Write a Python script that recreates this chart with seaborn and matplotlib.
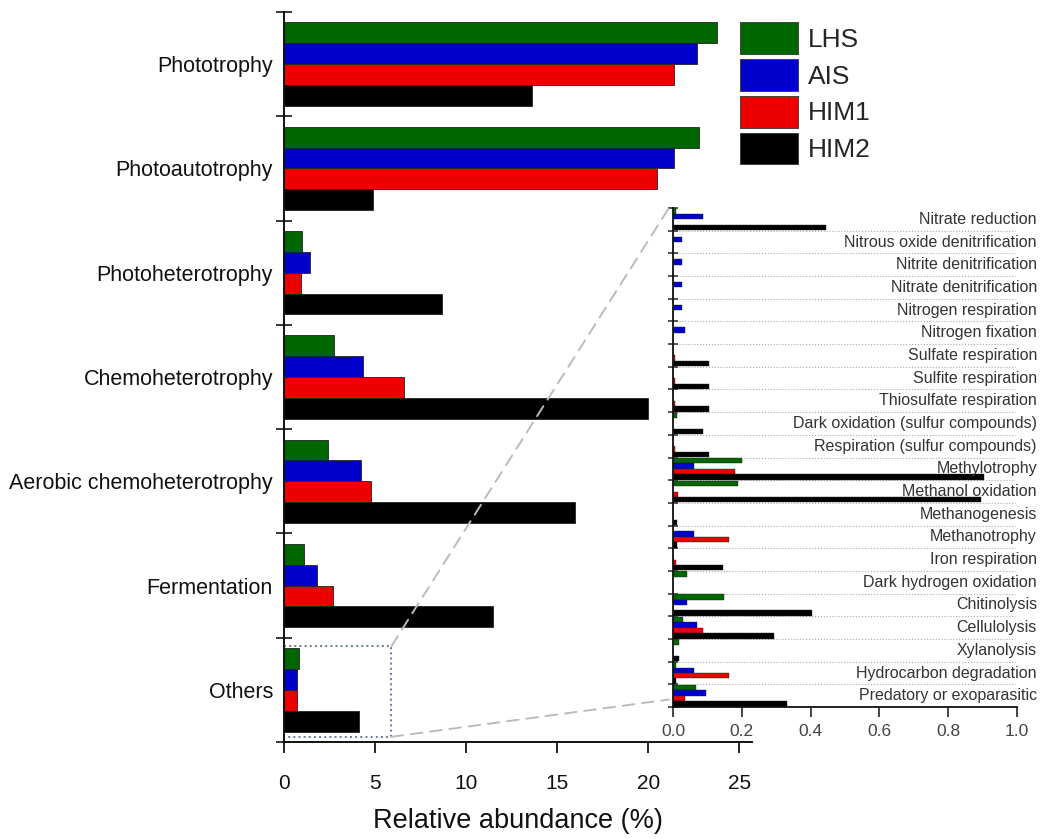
import matplotlib
matplotlib.use("Agg")
import matplotlib.pyplot as plt
from matplotlib.patches import Patch, Rectangle, ConnectionPatch
import seaborn as sns
import pandas as pd
import numpy as np

sns.set_theme(style="ticks")

FONT = ["Liberation Sans", "DejaVu Sans"]
plt.rcParams["font.family"] = FONT

# ---------------------------------------------------------
# data
# ---------------------------------------------------------

sites = ["LHS", "AIS", "HIM1", "HIM2"]
site_colors = ["#006600", "#0000cc", "#ee0000", "#000000"]

main_functions = [
    "Phototrophy",
    "Photoautotrophy",
    "Photoheterotrophy",
    "Chemoheterotrophy",
    "Aerobic chemoheterotrophy",
    "Fermentation",
    "Others",
]
main_lhs = [23.8, 22.8, 1.0, 2.75, 2.4, 1.1, 0.8]
main_ais = [22.7, 21.4, 1.4, 4.35, 4.2, 1.8, 0.7]
main_him1 = [21.4, 20.5, 0.95, 6.6, 4.8, 2.7, 0.7]
main_him2 = [13.6, 4.9, 8.7, 20.0, 16.0, 11.5, 4.1]

other_functions = [
    "Nitrate reduction",
    "Nitrous oxide denitrification",
    "Nitrite denitrification",
    "Nitrate denitrification",
    "Nitrogen respiration",
    "Nitrogen fixation",
    "Sulfate respiration",
    "Sulfite respiration",
    "Thiosulfate respiration",
    "Dark oxidation (sulfur compounds)",
    "Respiration (sulfur compounds)",
    "Methylotrophy",
    "Methanol oxidation",
    "Methanogenesis",
    "Methanotrophy",
    "Iron respiration",
    "Dark hydrogen oxidation",
    "Chitinolysis",
    "Cellulolysis",
    "Xylanolysis",
    "Hydrocarbon degradation",
    "Predatory or exoparasitic",
]
other_lhs = [0.01, 0, 0, 0, 0, 0, 0, 0, 0, 0.013, 0,
             0.20, 0.19, 0, 0, 0, 0.04, 0.148, 0.028, 0.018, 0.01, 0.066]
other_ais = [0.088, 0.025, 0.025, 0.025, 0.027, 0.035, 0, 0, 0, 0, 0,
             0.06, 0, 0, 0.062, 0, 0, 0.04, 0.069, 0, 0.062, 0.095]
other_him1 = [0, 0, 0, 0, 0, 0, 0.005, 0.005, 0.005, 0, 0.005,
              0.18, 0.015, 0, 0.163, 0.009, 0, 0, 0.088, 0, 0.163, 0.035]
other_him2 = [0.444, 0, 0, 0, 0, 0, 0.106, 0.106, 0.106, 0.088, 0.106,
              0.905, 0.895, 0.013, 0.013, 0.144, 0, 0.405, 0.294, 0.018, 0.01, 0.33]

main_ticks = [0, 5, 10, 15, 20, 25]
inset_ticks = [0.0, 0.2, 0.4, 0.6, 0.8, 1.0]

# zoom box drawn round "Others" in the main panel
zoom_xmax = 5.9
zoom_ytop = 5.58
zoom_ybottom = 6.45


def to_long(functions, *series):
    frames = []
    for site, values in zip(sites, series):
        frames.append(pd.DataFrame({
            "Function": functions,
            "Site": site,
            "Abundance": values,
        }))
    return pd.concat(frames, ignore_index=True)


main_df = to_long(main_functions, main_lhs, main_ais, main_him1, main_him2)
other_df = to_long(other_functions, other_lhs, other_ais, other_him1, other_him2)

palette = dict(zip(sites, site_colors))

# ---------------------------------------------------------
# main panel
# ---------------------------------------------------------

fig = plt.figure(figsize=(10.42, 8.39), dpi=100)

ax = fig.add_axes([0.2726, 0.1156, 0.4491, 0.8701])

sns.barplot(
    data=main_df,
    x="Abundance",
    y="Function",
    hue="Site",
    hue_order=sites,
    order=main_functions,
    palette=palette,
    saturation=1,
    orient="h",
    width=0.8,
    edgecolor="#222222",
    linewidth=0.6,
    legend=False,
    ax=ax,
)

ax.set_xlim(0, 25.7)
ax.set_ylim(len(main_functions) - 0.5, -0.5)
ax.set_xticks(main_ticks)
ax.set_yticks(np.arange(-0.5, len(main_functions)), minor=True)

ax.set_ylabel("")
ax.set_xlabel("Relative abundance (%)", fontsize=19.5, labelpad=11,
              color="#111111")

for side in ["top", "right"]:
    ax.spines[side].set_visible(False)
for side in ["left", "bottom"]:
    ax.spines[side].set_linewidth(1.4)
    ax.spines[side].set_color("#111111")

ax.tick_params(axis="y", which="major", length=0, pad=8, labelsize=15.5,
               labelcolor="#111111")
ax.tick_params(axis="y", which="minor", direction="inout", length=11, width=1.3)
ax.tick_params(axis="x", which="major", direction="out", length=8, width=1.4,
               pad=15, labelsize=15, labelcolor="#111111")

ax.add_patch(Rectangle(
    (0, zoom_ytop),
    zoom_xmax,
    zoom_ybottom - zoom_ytop,
    fill=False,
    edgecolor="#6a78a0",
    linestyle=":",
    linewidth=1.4,
    clip_on=False,
))

# ---------------------------------------------------------
# inset with the small functions
# ---------------------------------------------------------

ax_in = fig.add_axes([0.6459, 0.1573, 0.3301, 0.5948])
ax_in.set_facecolor("white")

sns.barplot(
    data=other_df,
    x="Abundance",
    y="Function",
    hue="Site",
    hue_order=sites,
    order=other_functions,
    palette=palette,
    saturation=1,
    orient="h",
    width=0.96,
    edgecolor="#222222",
    linewidth=0.3,
    legend=False,
    ax=ax_in,
)

ax_in.set_xlim(0, 1.0)
ax_in.set_ylim(len(other_functions) - 0.5, -0.5)
ax_in.set_xticks(inset_ticks)
ax_in.set_xticklabels([f"{t:.1f}" for t in inset_ticks], color="#444444")
ax_in.set_yticks(np.arange(-0.5, len(other_functions)), minor=True)
ax_in.set_yticklabels([])
ax_in.set_xlabel("")
ax_in.set_ylabel("")

# dotted separators between the functions (not along the top edge)
for boundary in np.arange(0.5, len(other_functions) - 1):
    ax_in.axhline(boundary, xmin=0.01, xmax=0.995, linestyle=":",
                  color="#aaaaaa", linewidth=0.8, zorder=0)

for side in ["top", "right"]:
    ax_in.spines[side].set_visible(False)
for side in ["left", "bottom"]:
    ax_in.spines[side].set_linewidth(1.3)
    ax_in.spines[side].set_color("#111111")

ax_in.tick_params(axis="y", which="major", length=0)
ax_in.tick_params(axis="y", which="minor", direction="inout", length=7, width=1.1)
ax_in.tick_params(axis="x", which="major", direction="out", length=7, width=1.2,
                  pad=5, labelsize=12.5)

for i, name in enumerate(other_functions):
    ax_in.text(
        1.058, i, name,
        transform=ax_in.get_yaxis_transform(),
        ha="right", va="center",
        fontsize=11.5, color="#333333",
        clip_on=False,
    )

# dashed lines joining the zoom box to the inset
for y_main, y_inset in [(zoom_ytop, 1.0), (zoom_ybottom, 0.015)]:
    fig.add_artist(ConnectionPatch(
        xyA=(zoom_xmax, y_main), coordsA=ax.transData,
        xyB=(-0.012, y_inset), coordsB=ax_in.transAxes,
        linestyle=(0, (6, 4)), color="#bbbbbb", linewidth=1.4,
    ))

# ---------------------------------------------------------
# legend
# ---------------------------------------------------------

handles = [Patch(facecolor=c, edgecolor="#333333", linewidth=0.6)
           for c in site_colors]

fig.legend(
    handles, sites,
    loc="upper left",
    bbox_to_anchor=(740 / 1042, 1 - 22 / 839),
    frameon=False,
    fontsize=19,
    handlelength=2.2,
    handleheight=1.48,
    labelspacing=0.19,
    handletextpad=0.38,
    borderpad=0,
    borderaxespad=0,
)

fig.savefig("out.png", dpi=100)
